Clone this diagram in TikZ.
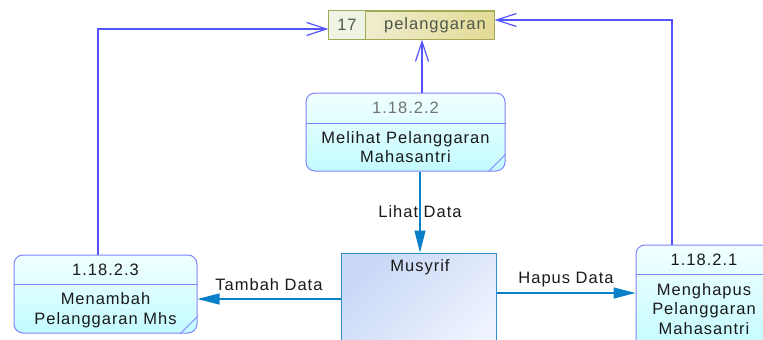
\documentclass[tikz,border=0pt]{standalone}
\usepackage{fontspec}
\setmainfont{Liberation Sans}[LetterSpace=6]
\usetikzlibrary{arrows.meta,calc}
\definecolor{procline}{HTML}{8383FF}
\definecolor{proctop}{HTML}{F2FFFF}
\definecolor{procbot}{HTML}{C2FBFF}
\definecolor{storeline}{HTML}{A2AA55}
\definecolor{storeL}{HTML}{F2F3DE}
\definecolor{storeR}{HTML}{E3DA95}
\definecolor{numcell}{HTML}{EFF4E4}
\definecolor{storetext}{HTML}{4E574E}
\definecolor{sblue}{HTML}{5555FF}
\definecolor{dblue}{HTML}{0A80C8}
\definecolor{entline}{HTML}{2E90D0}
\definecolor{entA}{HTML}{C8D8F6}
\definecolor{entB}{HTML}{EDF2FE}
\definecolor{txt}{HTML}{1A1A1A}
\tikzset{
  proc/.style={draw=procline, line width=1pt, rounded corners=9pt, top color=proctop, bottom color=procbot, inner sep=0pt},
  ent/.style={draw=entline, line width=1pt, left color=entA, right color=entB, shading angle=45, inner sep=0pt},
  storebox/.style={draw=storeline, line width=1pt, left color=storeL, right color=storeR, inner sep=0pt},
  ptext/.style={text=txt, align=center, inner sep=0pt},
  stext/.style={text=storetext, inner sep=0pt},
  lbl/.style={text=txt, inner sep=1pt},
  sflow/.style={draw=sblue, line width=1.2pt, -{Straight Barb[length=20pt,width=13pt,line width=1.2pt]}},
  dflow/.style={draw=dblue, line width=1.2pt, -{Triangle[length=22pt,width=11pt]}},
}
\begin{document}
\begin{tikzpicture}[x=1pt,y=-1pt,font=\fontsize{16.5}{19.5}\selectfont]
\useasboundingbox[fill=white] (0,0) rectangle (763,340);

% data store
\node[storebox, minimum width=165pt, minimum height=28pt] (store) at (411.5,25) {};
\fill[numcell] (store.north west) rectangle (store.south -| 365,0);
\draw[storeline, line width=1pt] (store.north west) rectangle (store.south east);
\draw[storeline, line width=1pt] (store.north -| 365,0) -- (store.south -| 365,0);
\node[stext] (snum) at (347,25) {17};
\node[stext] (sname) at (435,25) {pelanggaran};

% process 1.18.2.2
\node[proc, minimum width=199pt, minimum height=78pt] (p2) at (405.5,132) {};
\draw[procline, line width=1pt] (p2.west |- 0,123) -- (p2.east |- 0,123);
\draw[procline, line width=1pt] ($(p2.south east)+(-17,0)$) -- ($(p2.south east)+(0,-17)$);
\node[ptext, text=black!55] (p2t) at (405.5,108) {1.18.2.2};
\node[ptext] (p2b) at (405.5,147) {Melihat Pelanggaran\\Mahasantri};

% process 1.18.2.3
\node[proc, minimum width=183pt, minimum height=78pt] (p3) at (105.5,294) {};
\draw[procline, line width=1pt] (p3.west |- 0,284) -- (p3.east |- 0,284);
\draw[procline, line width=1pt] ($(p3.south east)+(-17,0)$) -- ($(p3.south east)+(0,-17)$);
\node[ptext] (p3t) at (105.5,270) {1.18.2.3};
\node[ptext] (p3b) at (105.5,310) {Menambah\\Pelanggaran Mhs};

% process 1.18.2.1
\node[proc, minimum width=136pt, minimum height=105pt] (p1) at (704,297.5) {};
\draw[procline, line width=1pt] (p1.west |- 0,274) -- (p1.east |- 0,274);
\node[ptext] (p1t) at (704,260) {1.18.2.1};
\node[ptext] (p1b) at (704,309) {Menghapus\\Pelanggaran\\Mahasantri};

% external entity
\node[ent, minimum width=155pt, minimum height=97pt] (m) at (418.5,301.5) {};
\node[ptext] (mt) at (420,267) {Musyrif};

% flows to store
\draw[sflow] (p3.north -| 98,0) -- (98,29) -- (store.west |- 0,29);
\draw[sflow] (p2.north -| 422,0) -- (store.south -| 422,0);
\draw[sflow] (p1.north -| 672,0) -- (672,20) -- (store.east |- 0,20);

% data flows
\draw[dflow] (p2.south -| 420,0) -- node[lbl, midway] (l1) {Lihat Data} (m.north -| 420,0);
\draw[dflow] (m.west |- 0,299) -- node[lbl, midway, anchor=base, yshift=9pt] (l2) {Tambah Data} (p3.east |- 0,299);
\draw[dflow] (m.east |- 0,293) -- node[lbl, midway, anchor=base, yshift=10pt] (l3) {Hapus Data} (p1.west |- 0,293);
\end{tikzpicture}
\end{document}
